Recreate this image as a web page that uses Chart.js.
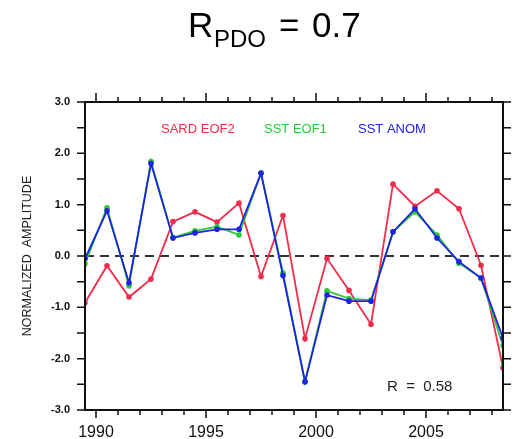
<!DOCTYPE html>
<html>
<head>
<meta charset="utf-8">
<script src="https://cdn.jsdelivr.net/npm/chart.js@4/dist/chart.umd.min.js"></script>
<style>
  html, body { margin: 0; padding: 0; background: #fff; }
  #wrap { width: 515px; height: 439px; position: relative; }
</style>
</head>
<body>
<div id="wrap"><canvas id="chart"></canvas></div>
<script>
// yearly samples, centred mid-year
const years = [1989.5, 1990.5, 1991.5, 1992.5, 1993.5, 1994.5, 1995.5, 1996.5, 1997.5, 1998.5,
               1999.5, 2000.5, 2001.5, 2002.5, 2003.5, 2004.5, 2005.5, 2006.5, 2007.5, 2008.5];

const sardEof2 = [-0.91, -0.19, -0.80, -0.45, 0.67, 0.86, 0.66, 1.03, -0.40, 0.79,
                  -1.61, -0.05, -0.67, -1.33, 1.40, 0.97, 1.27, 0.92, -0.18, -2.18];
const sstEof1  = [-0.15, 0.94, -0.58, 1.84, 0.36, 0.49, 0.57, 0.41, 1.62, -0.33,
                  -2.45, -0.68, -0.83, -0.86, 0.47, 0.86, 0.41, -0.14, -0.43, -1.75];
const sstAnom  = [-0.05, 0.88, -0.52, 1.80, 0.35, 0.45, 0.52, 0.52, 1.61, -0.38,
                  -2.45, -0.76, -0.88, -0.88, 0.47, 0.92, 0.35, -0.11, -0.43, -1.60];

const xLabelYears = [1990, 1995, 2000, 2005];
const xTickYears = [1990, 1991, 1992, 1993, 1994, 1995, 1996, 1997, 1998, 1999,
                    2000, 2001, 2002, 2003, 2004, 2005, 2006, 2007, 2008];
const yLabelValues = [-3, -2, -1, 0, 1, 2, 3];
const yTickValues = [-3, -2.5, -2, -1.5, -1, -0.5, 0, 0.5, 1, 1.5, 2, 2.5, 3];

const RED = "rgb(240,45,75)";
const GREEN = "rgb(45,200,55)";
const BLUE = "rgb(30,35,225)";
const FONT = "'Liberation Sans', Arial, Helvetica, sans-serif";

Chart.defaults.font.family = FONT;

const toPoints = (vals) => years.map((x, i) => ({ x, y: vals[i] }));

const series = (label, vals, color, order) => ({
  label,
  data: toPoints(vals),
  borderColor: color,
  backgroundColor: color,
  borderWidth: 1.8,
  pointRadius: 2.8,
  pointBorderWidth: 0,
  tension: 0,
  order,
});

// frame, outward ticks, zero line and the text annotations
const decorations = {
  id: "decorations",
  beforeDatasetsDraw(chart) {
    const { ctx, chartArea: a, scales } = chart;
    const y0 = scales.y.getPixelForValue(0);
    ctx.save();
    ctx.strokeStyle = "#333";
    ctx.lineWidth = 2;
    ctx.setLineDash([9, 6]);
    ctx.beginPath();
    ctx.moveTo(a.left, y0);
    ctx.lineTo(a.right, y0);
    ctx.stroke();
    ctx.restore();
  },
  afterDraw(chart) {
    const { ctx, chartArea: a, scales } = chart;
    const sx = scales.x, sy = scales.y;
    ctx.save();
    ctx.strokeStyle = "#111";
    ctx.lineWidth = 2;
    ctx.strokeRect(a.left, a.top, a.right - a.left, a.bottom - a.top);

    ctx.lineWidth = 1.5;
    ctx.beginPath();
    xTickYears.forEach((yr) => {
      const px = sx.getPixelForValue(yr);
      const major = yr % 5 === 0;
      ctx.moveTo(px, a.top);
      ctx.lineTo(px, a.top - (major ? 9 : 5));
      ctx.moveTo(px, a.bottom);
      ctx.lineTo(px, a.bottom + (major ? 8 : 5));
    });
    yTickValues.forEach((v) => {
      const py = sy.getPixelForValue(v);
      ctx.moveTo(a.left, py);
      ctx.lineTo(a.left - 8, py);
      ctx.moveTo(a.right, py);
      ctx.lineTo(a.right + 8, py);
    });
    ctx.stroke();

    // y axis title
    ctx.fillStyle = "#222";
    ctx.font = "12.5px " + FONT;
    ctx.textAlign = "center";
    ctx.textBaseline = "middle";
    ctx.translate(28, sy.getPixelForValue(0));
    ctx.rotate(-Math.PI / 2);
    ctx.fillText("NORMALIZED  AMPLITUDE", 0, 0);
    ctx.setTransform(1, 0, 0, 1, 0, 0);

    // series labels
    ctx.font = "13px " + FONT;
    ctx.textAlign = "left";
    ctx.fillStyle = RED;
    ctx.fillText("SARD EOF2", 161, 129);
    ctx.fillStyle = GREEN;
    ctx.fillText("SST EOF1", 264, 129);
    ctx.fillStyle = BLUE;
    ctx.fillText("SST ANOM", 358, 129);

    ctx.fillStyle = "#222";
    ctx.font = "15px " + FONT;
    ctx.fillText("R  =  0.58", 387, 387);

    // heading
    ctx.fillStyle = "#000";
    ctx.textBaseline = "alphabetic";
    ctx.font = "35px " + FONT;
    ctx.fillText("R", 188, 37);
    ctx.fillText("=", 279, 37);
    ctx.fillText("0.7", 312, 37);
    ctx.font = "24px " + FONT;
    ctx.fillText("PDO", 214, 47);
    ctx.restore();
  },
};

new Chart(document.getElementById("chart"), {
  type: "line",
  data: {
    datasets: [
      series("SARD EOF2", sardEof2, RED, 3),
      series("SST EOF1", sstEof1, GREEN, 2),
      series("SST ANOM", sstAnom, BLUE, 1),
    ],
  },
  options: {
    responsive: true,
    maintainAspectRatio: false,
    animation: false,
    layout: { padding: { top: 102, right: 12, left: 0, bottom: 0 } },
    plugins: {
      legend: { display: false },
      tooltip: { enabled: false },
    },
    scales: {
      x: {
        type: "linear",
        min: 1989.5,
        max: 2008.5,
        grid: { display: false, drawTicks: false },
        border: { display: false },
        afterBuildTicks: (s) => { s.ticks = xLabelYears.map((v) => ({ value: v })); },
        afterFit: (s) => { s.height = 29; },
        ticks: {
          color: "#111",
          font: { size: 16 },
          padding: 13,
          maxRotation: 0,
          autoSkip: false,
          callback: (v) => String(v),
        },
      },
      y: {
        type: "linear",
        min: -3,
        max: 3,
        grid: { display: false, drawTicks: false },
        border: { display: false },
        afterBuildTicks: (s) => { s.ticks = yLabelValues.map((v) => ({ value: v })); },
        afterFit: (s) => { s.width = 85; },
        ticks: {
          color: "#111",
          font: { size: 11, weight: "bold" },
          padding: 15,
          callback: (v) => Number(v).toFixed(1),
        },
      },
    },
  },
  plugins: [decorations],
});
</script>
</body>
</html>
